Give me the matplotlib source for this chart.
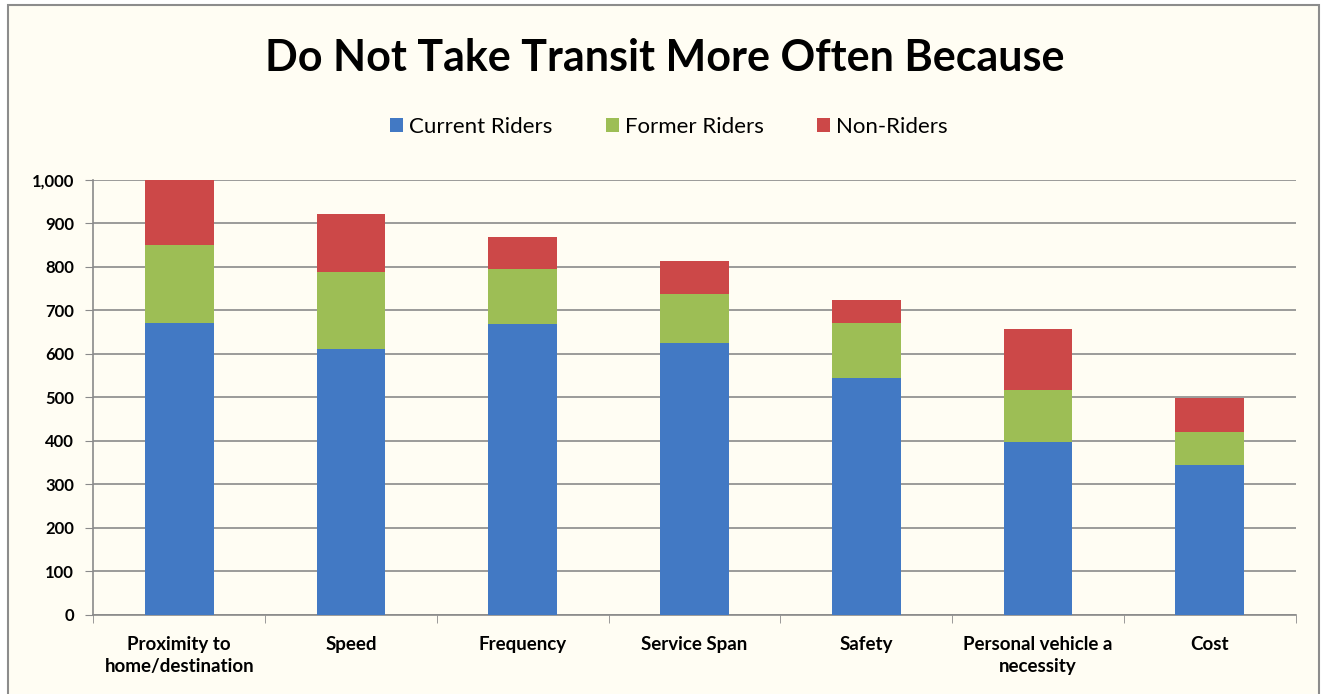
import matplotlib.pyplot as plt
import numpy as np
from matplotlib.patches import Rectangle

# survey results
categories = ['Proximity to\nhome/destination', 'Speed', 'Frequency', 'Service Span',
              'Safety', 'Personal vehicle a\nnecessity', 'Cost']
current_riders = [671, 611, 669, 625, 545, 398, 345]
former_riders = [179, 177, 126, 113, 126, 119, 76]
non_riders = [150, 134, 74, 76, 53, 140, 78]

plt.rcParams['font.family'] = ['Lato', 'DejaVu Sans']

bg = '#fffdf3'
fig = plt.figure(figsize=(13.24, 6.94), dpi=100, facecolor='white')
fig.patches.append(Rectangle((0.006, -0.01), 0.99, 1.003, transform=fig.transFigure,
                             facecolor=bg, edgecolor='#8c8c8c', linewidth=1.5, zorder=-5))
ax = fig.add_axes([0.0705, 0.114, 0.908, 0.627])
ax.set_facecolor(bg)

x = np.arange(len(categories))
w = 0.4
cur = np.array(current_riders)
frm = np.array(former_riders)
non = np.array(non_riders)
ax.bar(x, cur, w, color='#4279c4', label='Current Riders', zorder=3)
ax.bar(x, frm, w, bottom=cur, color='#9dbe55', label='Former Riders', zorder=3)
ax.bar(x, non, w, bottom=cur + frm, color='#cc4848', label='Non-Riders', zorder=3)

ax.set_xlim(-0.5, len(categories) - 0.5)
ax.set_ylim(0, 1000)
ax.set_yticks(np.arange(0, 1001, 100))
ax.set_yticklabels(['{:,}'.format(v) for v in range(0, 1001, 100)],
                   fontsize=12, fontweight='bold')
ax.yaxis.grid(True, color='#8a8a8a', linewidth=1.2, zorder=0)
ax.set_axisbelow(True)

# category labels centred, tick marks between categories
ax.set_xticks(x)
ax.set_xticklabels(categories, fontsize=13.5, fontweight='bold', linespacing=1.35)
ax.tick_params(axis='x', length=0, pad=15)
ax.set_xticks(np.arange(-0.5, len(categories)), minor=True)
ax.tick_params(axis='x', which='minor', length=6, color='#8a8a8a')
ax.tick_params(axis='y', length=6, color='#8a8a8a', pad=8)

for side in ['top', 'right']:
    ax.spines[side].set_visible(False)
for side in ['left', 'bottom']:
    ax.spines[side].set_color('#8a8a8a')
    ax.spines[side].set_linewidth(1.2)

fig.text(0.502, 0.917, 'Do Not Take Transit More Often Because', ha='center', va='center',
         fontsize=31, fontweight='bold')
leg = fig.legend(loc='center', bbox_to_anchor=(0.505, 0.817), ncol=3, frameon=False,
                 fontsize=16, handlelength=0.6, handleheight=0.6, handletextpad=0.25,
                 columnspacing=2.4)

plt.savefig('out.png', dpi=100, facecolor='white')
